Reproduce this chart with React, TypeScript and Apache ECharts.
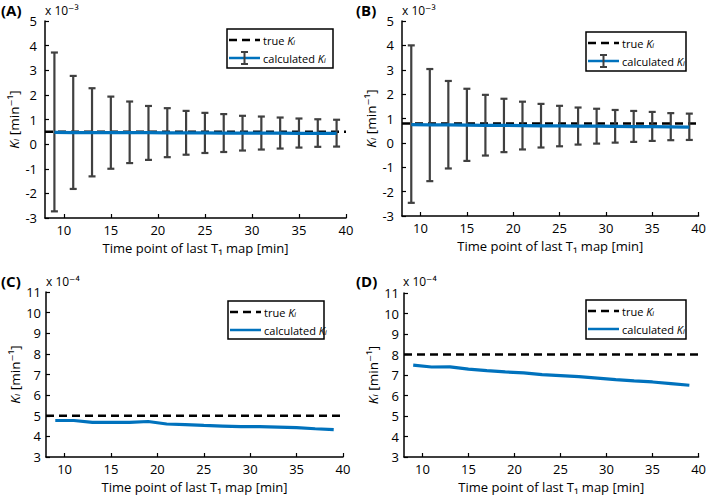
import React, { useEffect, useRef } from "react";
import * as echarts from "echarts";

// ---- data ----
const timePoints = [9, 11, 13, 15, 17, 19, 21, 23, 25, 27, 29, 31, 33, 35, 37, 39];
const xTicks = [10, 15, 20, 25, 30, 35, 40];
const xRange = [8, 40];

// Panel A (x 10^-3)
const aTrue = 0.5;
const aCalc = [0.48, 0.47, 0.47, 0.47, 0.47, 0.47, 0.46, 0.46, 0.46, 0.45, 0.45, 0.45, 0.45, 0.44, 0.44, 0.44];
const aUpper = [3.72, 2.77, 2.27, 1.93, 1.73, 1.55, 1.46, 1.35, 1.27, 1.22, 1.15, 1.12, 1.08, 1.04, 1.01, 0.99];
const aLower = [-2.73, -1.82, -1.31, -1.0, -0.77, -0.64, -0.53, -0.43, -0.36, -0.32, -0.26, -0.22, -0.18, -0.14, -0.11, -0.1];

// Panel B (x 10^-3)
const bTrue = 0.8;
const bCalc = [0.75, 0.74, 0.74, 0.73, 0.72, 0.72, 0.71, 0.7, 0.7, 0.69, 0.69, 0.68, 0.67, 0.67, 0.66, 0.65];
const bUpper = [4.0, 3.03, 2.54, 2.22, 1.97, 1.81, 1.69, 1.6, 1.52, 1.45, 1.4, 1.35, 1.31, 1.27, 1.22, 1.2];
const bLower = [-2.46, -1.57, -1.05, -0.74, -0.52, -0.38, -0.27, -0.19, -0.14, -0.07, -0.03, 0.01, 0.04, 0.08, 0.11, 0.12];

// Panel C (x 10^-4)
const cTrue = 5;
const cCalc = [4.77, 4.77, 4.68, 4.68, 4.68, 4.72, 4.6, 4.57, 4.53, 4.5, 4.47, 4.47, 4.45, 4.42, 4.37, 4.33];

// Panel D (x 10^-4)
const dTrue = 8;
const dCalc = [7.48, 7.39, 7.4, 7.29, 7.21, 7.15, 7.1, 7.02, 6.97, 6.92, 6.85, 6.77, 6.71, 6.66, 6.58, 6.5];

const yRangeAB = [-3, 5];
const yRangeCD = [3, 11];

// ---- styling ----
const FONT = "'Open Sans', 'DejaVu Sans', sans-serif";
const BLUE = "#0072BD";
const ERR = "#404040";

const xName = "Time point of last T\u2081 map [min]";
const yName = "{k|K\u1d62} [min\u207b\u00b9]";

function makeXAxis(gridIndex: number) {
  return {
    type: "value",
    gridIndex,
    min: xRange[0],
    max: xRange[1],
    axisLine: { show: true, onZero: false, lineStyle: { color: "#000", width: 1.5 } },
    axisTick: { show: true, inside: true, length: 4, customValues: xTicks, lineStyle: { color: "#000", width: 1.2 } },
    axisLabel: { customValues: xTicks, color: "#000", fontSize: 13, fontFamily: FONT, margin: 5 },
    splitLine: { show: false },
    name: xName,
    nameLocation: "middle",
    nameGap: 23,
    nameTextStyle: { color: "#000", fontSize: 13, fontFamily: FONT },
  };
}

function makeYAxis(gridIndex: number, range: number[], margin: number) {
  return {
    type: "value",
    gridIndex,
    min: range[0],
    max: range[1],
    interval: 1,
    axisLine: { show: true, onZero: false, lineStyle: { color: "#000", width: 1.5 } },
    axisTick: { show: true, inside: true, length: 4, lineStyle: { color: "#000", width: 1.2 } },
    axisLabel: { color: "#000", fontSize: 13, fontFamily: FONT, margin },
    splitLine: { show: false },
    name: yName,
    nameLocation: "middle",
    nameGap: 22,
    nameTextStyle: {
      color: "#000",
      fontSize: 13.5,
      fontFamily: FONT,
      rich: { k: { fontStyle: "italic", fontSize: 13.5, fontFamily: FONT, color: "#000" } },
    },
  };
}

function trueSeries(idx: number, v: number) {
  return {
    type: "line",
    xAxisIndex: idx,
    yAxisIndex: idx,
    data: [
      [xRange[0], v],
      [xRange[1], v],
    ],
    showSymbol: false,
    symbol: "none",
    lineStyle: { color: "#000", width: 2.5, type: [8, 5] },
    z: 2,
  };
}

function calcSeries(idx: number, vals: number[]) {
  return {
    type: "line",
    xAxisIndex: idx,
    yAxisIndex: idx,
    data: timePoints.map((t, i) => [t, vals[i]]),
    showSymbol: false,
    symbol: "none",
    lineStyle: { color: BLUE, width: 3.2 },
    z: 4,
  };
}

function errSeries(idx: number, lo: number[], hi: number[]) {
  return {
    type: "custom",
    xAxisIndex: idx,
    yAxisIndex: idx,
    encode: { x: 0, y: [1, 2] },
    data: timePoints.map((t, i) => [t, lo[i], hi[i]]),
    z: 3,
    renderItem: (params: any, api: any) => {
      const p1 = api.coord([api.value(0), api.value(1)]);
      const p2 = api.coord([api.value(0), api.value(2)]);
      const hw = 3.5;
      const st = { stroke: ERR, lineWidth: 2.2 };
      return {
        type: "group",
        children: [
          { type: "line", shape: { x1: p1[0], y1: p1[1], x2: p2[0], y2: p2[1] }, style: st },
          { type: "line", shape: { x1: p1[0] - hw, y1: p1[1], x2: p1[0] + hw, y2: p1[1] }, style: st },
          { type: "line", shape: { x1: p2[0] - hw, y1: p2[1], x2: p2[0] + hw, y2: p2[1] }, style: st },
        ],
      };
    },
  };
}

function legend(x: number, y: number, w: number, h: number, withErr: boolean) {
  const r1 = y + 11;
  const r2 = y + 29;
  const lx1 = x + 2;
  const lx2 = x + 33;
  const tx = x + 36;
  const els: any[] = [
    { type: "rect", shape: { x, y, width: w, height: h }, style: { fill: "#fff", stroke: "#000", lineWidth: 1.5 }, z: 10 },
    { type: "line", shape: { x1: lx1, y1: r1, x2: lx2, y2: r1 }, style: { stroke: "#000", lineWidth: 2.5, lineDash: [8, 5] }, z: 11 },
    {
      type: "text",
      x: tx,
      y: r1,
      style: {
        text: "true {k|K\u1d62}",
        fill: "#000",
        fontSize: 11,
        fontFamily: FONT,
        verticalAlign: "middle",
        rich: { k: { fontStyle: "italic", fontSize: 11, fontFamily: FONT } },
      },
      z: 11,
    },
    { type: "line", shape: { x1: lx1, y1: r2, x2: lx2, y2: r2 }, style: { stroke: BLUE, lineWidth: 2.5 }, z: 11 },
    {
      type: "text",
      x: tx,
      y: r2,
      style: {
        text: "calculated {k|K\u1d62}",
        fill: "#000",
        fontSize: 11,
        fontFamily: FONT,
        verticalAlign: "middle",
        rich: { k: { fontStyle: "italic", fontSize: 11, fontFamily: FONT } },
      },
      z: 11,
    },
  ];
  if (withErr) {
    const cx = (lx1 + lx2) / 2;
    const st = { stroke: ERR, lineWidth: 2 };
    els.push(
      { type: "line", shape: { x1: cx, y1: r2 - 6, x2: cx, y2: r2 + 6 }, style: st, z: 12 },
      { type: "line", shape: { x1: cx - 3.5, y1: r2 - 6, x2: cx + 3.5, y2: r2 - 6 }, style: st, z: 12 },
      { type: "line", shape: { x1: cx - 3.5, y1: r2 + 6, x2: cx + 3.5, y2: r2 + 6 }, style: st, z: 12 }
    );
  }
  return els;
}

function panelLabel(x: number, y: number, t: string) {
  return {
    type: "text",
    x,
    y,
    style: { text: t, fill: "#000", fontSize: 15, fontWeight: "bold", fontFamily: FONT, verticalAlign: "middle" },
  };
}

function expLabel(x: number, y: number, t: string) {
  return {
    type: "text",
    x,
    y,
    style: { text: t, fill: "#000", fontSize: 12, fontFamily: FONT, verticalAlign: "middle" },
  };
}

export default function App() {
  const ref = useRef<HTMLDivElement>(null);
  useEffect(() => {
    if (!ref.current) return;
    const chart = echarts.init(ref.current, undefined, { renderer: "svg" });
    chart.setOption({
      animation: false,
      backgroundColor: "#fff",
      grid: [
        { left: 45, right: 709 - 346, top: 21, bottom: 497 - 218 },
        { left: 402, right: 709 - 702, top: 21, bottom: 497 - 216 },
        { left: 46, right: 709 - 343, top: 292, bottom: 497 - 457 },
        { left: 404, right: 709 - 701, top: 293, bottom: 497 - 457 },
      ],
      xAxis: [makeXAxis(0), makeXAxis(1), makeXAxis(2), makeXAxis(3)],
      yAxis: [makeYAxis(0, yRangeAB, 8), makeYAxis(1, yRangeAB, 8), makeYAxis(2, yRangeCD, 5), makeYAxis(3, yRangeCD, 5)],
      series: [
        trueSeries(0, aTrue),
        errSeries(0, aLower, aUpper),
        calcSeries(0, aCalc),
        trueSeries(1, bTrue),
        errSeries(1, bLower, bUpper),
        calcSeries(1, bCalc),
        trueSeries(2, cTrue),
        calcSeries(2, cCalc),
        trueSeries(3, dTrue),
        calcSeries(3, dCalc),
      ],
      graphic: [
        panelLabel(1, 10, "(A)"),
        panelLabel(356, 10, "(B)"),
        panelLabel(1, 281, "(C)"),
        panelLabel(356, 281, "(D)"),
        expLabel(45, 10, "x 10\u207b\u00b3"),
        expLabel(402, 10, "x 10\u207b\u00b3"),
        expLabel(46, 281, "x 10\u207b\u2074"),
        expLabel(403, 281, "x 10\u207b\u2074"),
        ...legend(227, 29, 106, 39, true),
        ...legend(586, 32, 100, 39, true),
        ...legend(228, 301, 96, 38, false),
        ...legend(586, 300, 100, 39, false),
      ],
    });
    return () => chart.dispose();
  }, []);
  return <div ref={ref} style={{ position: "absolute", left: 0, top: 0, width: 709, height: 497 }} />;
}
